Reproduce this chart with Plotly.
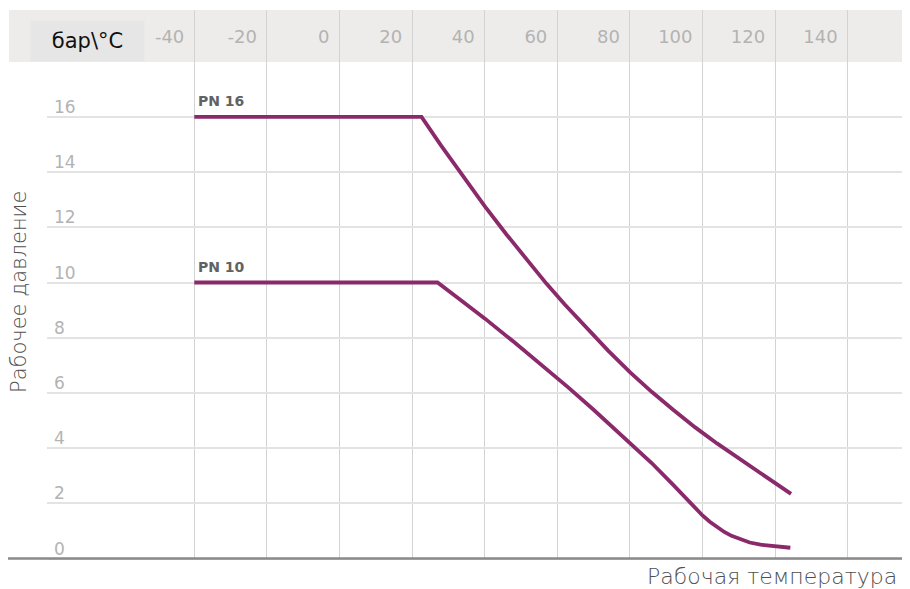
import plotly.graph_objects as go

# ---- data ----
x_ticks = [-40, -20, 0, 20, 40, 60, 80, 100, 120, 140]
y_ticks = [0, 2, 4, 6, 8, 10, 12, 14, 16]

pn16_temp = [-40, 22.6, 28, 34, 40, 46, 52, 57, 62, 68, 74, 80, 86, 92, 98,
             104, 110, 116, 120, 124.4]
pn16_pressure = [16, 16, 14.96, 13.85, 12.77, 11.74, 10.75, 9.96, 9.21, 8.35, 7.53, 6.75,
                 6.04, 5.38, 4.75, 4.17, 3.62, 3.08, 2.73, 2.34]

pn10_temp = [-40, 27, 33, 40, 48, 58, 63, 70, 80, 86, 92, 95, 98, 100, 102, 104, 106,
             108, 110, 113, 116, 120, 124.2]
pn10_pressure = [10, 10, 9.4, 8.7, 7.85, 6.77, 6.2, 5.39, 4.2, 3.46, 2.66, 2.24, 1.82,
                 1.56, 1.33, 1.13, 0.96, 0.82, 0.71, 0.58, 0.5, 0.44, 0.39]

series_names = ["PN 16", "PN 10"]
x_title = "Рабочая температура"
y_title = "Рабочее давление"
unit_label = "бар\\°C"

# ---- layout geometry ----
# the page body adds an 8px offset, so the figure is 8px smaller than the window
W, H = 902, 581
ML, MR, MT, MB = 39, 7, 2, 29
PW = W - ML - MR
PH = H - MT - MB

# helpers work in window pixel coordinates (figure origin at window 8,8)
def px_x(p):
    return (p - 8 - ML) / PW

def px_y(p):
    return (H - MB - (p - 8)) / PH

line_color = "#8a2a6b"
tick_font = "'DejaVu Sans', sans-serif"
title_font = "'DejaVu Sans', sans-serif"

fig = go.Figure()
for name, xs, ys in [(series_names[0], pn16_temp, pn16_pressure),
                     (series_names[1], pn10_temp, pn10_pressure)]:
    fig.add_trace(go.Scatter(
        x=xs, y=ys, mode="lines", name=name,
        line=dict(color=line_color, width=3.8, shape="linear"),
        showlegend=False, hoverinfo="x+y+name",
    ))

# x scale: gridline for -40 at window px 194.3, 72.6 px per 20 deg
deg_per_px = 20 / 72.6
x_min = -40 - (194.3 - 47) * deg_per_px
x_max = -40 + (903 - 194.3) * deg_per_px
# y scale: 0 at window px 558.5, 55.2 px per 2 bar
bar_per_px = 2 / 55.2
y_min = -(560 - 558.5) * bar_per_px
y_max = (558.5 - 10) * bar_per_px

fig.update_layout(
    width=W, height=H,
    margin=dict(l=ML, r=MR, t=MT, b=MB, autoexpand=False),
    paper_bgcolor="white", plot_bgcolor="white",
    font=dict(family=tick_font),
    xaxis=dict(
        range=[x_min, x_max], side="top",
        tickmode="array", tickvals=x_ticks, ticktext=[str(v) for v in x_ticks],
        ticklabelposition="inside left", ticklabelstandoff=14, ticklabelshift=-10,
        ticks="", showline=False, zeroline=False,
        showgrid=True, gridcolor="#d3d3d3", gridwidth=1.2,
        tickfont=dict(size=18, color="#b3b3b3", family=tick_font),
        fixedrange=True,
    ),
    yaxis=dict(
        range=[y_min, y_max],
        tickmode="array", tickvals=y_ticks, ticktext=[str(v) for v in y_ticks],
        ticklabelposition="inside top", ticklabelstandoff=4, ticklabelshift=2,
        ticks="", showline=False, zeroline=False,
        showgrid=True, gridcolor="#e3e3e3", gridwidth=2,
        tickfont=dict(size=17, color="#b3b3b3", family=tick_font),
        fixedrange=True,
    ),
    shapes=[
        # grey header band
        dict(type="rect", xref="paper", yref="paper",
             x0=px_x(9), x1=px_x(904), y0=px_y(62), y1=px_y(10),
             fillcolor="#eeecea", line=dict(width=0), layer="below"),
        # bottom axis line
        dict(type="line", xref="paper", yref="y",
             x0=px_x(8), x1=px_x(903), y0=0, y1=0,
             line=dict(color="#8a8a8a", width=2.5), layer="above"),
    ],
    annotations=[
        dict(text=unit_label, xref="paper", yref="paper",
             x=px_x(87.5), y=px_y(41), xanchor="center", yanchor="middle",
             showarrow=False, bgcolor="#e6e6e6", width=111, height=38,
             font=dict(size=21, color="#111111", family=title_font)),
        dict(text=series_names[0], xref="x", yref="y", x=pn16_temp[0], y=pn16_pressure[0],
             xanchor="left", yanchor="bottom", xshift=2, yshift=6, showarrow=False,
             font=dict(size=14, color="#626262", family=tick_font, weight="bold")),
        dict(text=series_names[1], xref="x", yref="y", x=pn10_temp[0], y=pn10_pressure[0],
             xanchor="left", yanchor="bottom", xshift=2, yshift=6, showarrow=False,
             font=dict(size=14, color="#626262", family=tick_font, weight="bold")),
        dict(text=y_title, xref="paper", yref="paper", x=px_x(19), y=px_y(292),
             xanchor="center", yanchor="middle", textangle=-90, showarrow=False,
             font=dict(size=21, color="#505050", family=title_font, weight=200)),
        dict(text=x_title, xref="paper", yref="paper", x=px_x(899), y=px_y(576),
             xanchor="right", yanchor="middle", showarrow=False,
             font=dict(size=22, color="#505050", family=title_font, weight=200)),
    ],
)

fig.write_html("out.html")
